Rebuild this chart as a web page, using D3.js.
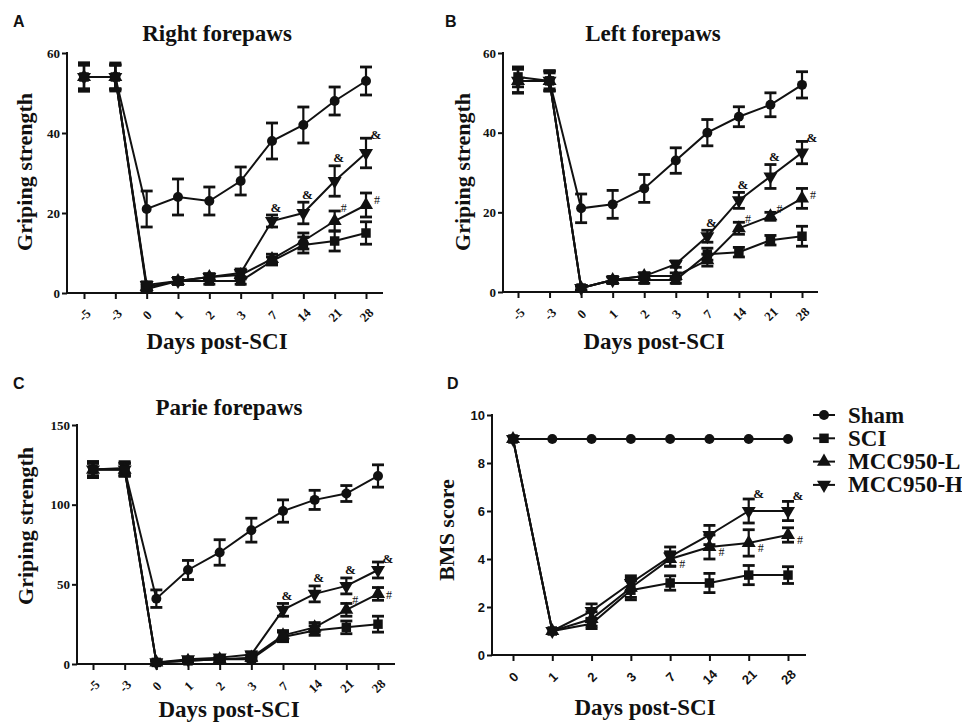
<!DOCTYPE html>
<html>
<head>
<meta charset="utf-8">
<script src="https://cdn.jsdelivr.net/npm/d3@7"></script>
<style>
  body { margin: 0; background: #fff; }
  svg { display: block; }
</style>
</head>
<body>
<svg id="chart" width="962" height="725"></svg>
<script>
// ---- data ----
var pawDays = ['-5', '-3', '0', '1', '2', '3', '7', '14', '21', '28'];
var bmsDays = ['0', '1', '2', '3', '7', '14', '21', '28'];
var groupNames = ['Sham', 'SCI', 'MCC950-L', 'MCC950-H'];

// A: right forepaws
var rightSham = [54, 54, 21, 24, 23, 28, 38, 42, 48, 53];
var rightShamErr = [3.5, 3.5, 4.5, 4.5, 3.5, 3.5, 4.5, 4.5, 3.5, 3.5];
var rightSci = [54, 54, 1, 3, 3, 3, 8, 12, 13, 15];
var rightSciErr = [3.5, 3, 0.8, 0.8, 0.8, 0.8, 1, 2, 2.5, 2.8];
var rightLow = [54, 54, 1.5, 3, 4, 4.5, 8.5, 13, 18, 22];
var rightLowErr = [3, 3, 0.8, 0.8, 0.8, 1, 1.2, 2, 2.5, 3];
var rightHigh = [54, 54, 2, 3, 4, 5, 18, 20, 28, 35];
var rightHighErr = [3, 3, 0.8, 0.8, 0.8, 1, 1.5, 2.7, 3.8, 3.7];
var rightNotes = [['7', 3, '&'], ['14', 3, '&'], ['21', 3, '&'], ['28', 3, '&'], ['21', 2, '#'], ['28', 2, '#']];

// B: left forepaws
var leftSham = [53, 53, 21, 22, 26, 33, 40, 44, 47, 52];
var leftShamErr = [3, 2.5, 3.6, 3.5, 3.5, 3.2, 3.3, 2.5, 3, 3.3];
var leftSci = [54, 53, 1, 3, 3, 3, 9.5, 10, 13, 14];
var leftSciErr = [2.5, 2, 0.5, 0.8, 0.8, 0.8, 1.5, 1.2, 1.2, 2.5];
var leftLow = [53, 53, 1, 3, 4, 4, 8, 16, 19, 23.5];
var leftLowErr = [3, 2.5, 0.5, 0.8, 0.8, 0.8, 1.5, 1.5, 1, 2.5];
var leftHigh = [53, 53, 1, 3, 4, 7, 14, 23, 29, 35];
var leftHighErr = [3, 2.5, 0.5, 0.8, 0.8, 0.8, 1.5, 2, 3, 2.8];
var leftNotes = [['7', 3, '&'], ['14', 3, '&'], ['21', 3, '&'], ['28', 3, '&'], ['14', 2, '#'], ['21', 2, '#'], ['28', 2, '#']];

// C: parie forepaws
var parieSham = [122, 122, 41, 59, 70, 84, 96, 103, 107, 118];
var parieShamErr = [5, 4, 5.5, 6, 8, 7.5, 7, 6, 5, 7];
var parieSci = [122, 123, 1, 2, 3, 3, 17, 21, 23, 25];
var parieSciErr = [5, 4, 1, 1, 1, 1, 3, 3, 4, 5];
var parieLow = [122, 122, 1, 2, 3, 4, 18, 23, 34, 44];
var parieLowErr = [4, 4, 1, 1, 1, 1.5, 3, 3, 4, 4];
var parieHigh = [122, 122, 1, 3, 4, 6, 34, 44, 49, 59];
var parieHighErr = [4, 4, 1, 1, 1, 1.5, 4, 5, 5, 5];
var parieNotes = [['7', 3, '&'], ['14', 3, '&'], ['21', 3, '&'], ['28', 3, '&'], ['21', 2, '#'], ['28', 2, '#']];

// D: BMS score
var bmsSham = [9, 9, 9, 9, 9, 9, 9, 9];
var bmsShamErr = [0, 0, 0, 0, 0, 0, 0, 0];
var bmsSci = [9, 1, 1.3, 2.7, 3, 3, 3.33, 3.33];
var bmsSciErr = [0, 0, 0.2, 0.4, 0.3, 0.4, 0.4, 0.35];
var bmsLow = [9, 1, 1.5, 2.8, 4, 4.5, 4.67, 5];
var bmsLowErr = [0, 0, 0.3, 0.4, 0.3, 0.5, 0.55, 0.3];
var bmsHigh = [9, 1, 1.83, 3, 4.1, 5, 6, 6];
var bmsHighErr = [0, 0, 0.3, 0.3, 0.4, 0.4, 0.5, 0.4];
var bmsNotes = [['21', 3, '&'], ['28', 3, '&'], ['7', 2, '#'], ['14', 2, '#'], ['21', 2, '#'], ['28', 2, '#']];

var pawTicks = [0, 20, 40, 60];
var parieTicks = [0, 50, 100, 150];
var bmsTicks = [0, 2, 4, 6, 8, 10];

// ---- layout ----
var SERIF = "'Liberation Serif', 'Times New Roman', 'DejaVu Serif', serif";
var SANS = "'Liberation Sans', Arial, 'DejaVu Sans', sans-serif";

var panels = [
  { letter: 'A', title: 'Right forepaws', ylabel: 'Griping strength', days: pawDays, ticks: pawTicks,
    series: [[rightSham, rightShamErr], [rightSci, rightSciErr], [rightLow, rightLowErr], [rightHigh, rightHighErr]],
    notes: rightNotes, ax: 67, x0: 84, x1: 366, xEnd: 383, top: 53, bottom: 293,
    letterPos: [13, 27], titlePos: [217, 41], ylabPos: [32, 172], xlabPos: [217, 349], tickFont: SERIF },
  { letter: 'B', title: 'Left forepaws', ylabel: 'Griping strength', days: pawDays, ticks: pawTicks,
    series: [[leftSham, leftShamErr], [leftSci, leftSciErr], [leftLow, leftLowErr], [leftHigh, leftHighErr]],
    notes: leftNotes, ax: 503, x0: 518, x1: 802, xEnd: 818, top: 53, bottom: 292,
    letterPos: [445, 27], titlePos: [653, 41], ylabPos: [470, 172], xlabPos: [654, 349], tickFont: SERIF },
  { letter: 'C', title: 'Parie forepaws', ylabel: 'Griping strength', days: pawDays, ticks: parieTicks,
    series: [[parieSham, parieShamErr], [parieSci, parieSciErr], [parieLow, parieLowErr], [parieHigh, parieHighErr]],
    notes: parieNotes, ax: 77, x0: 93, x1: 378, xEnd: 395, top: 425, bottom: 664,
    letterPos: [13, 389], titlePos: [229, 415], ylabPos: [33, 526], xlabPos: [229, 717], tickFont: SERIF },
  { letter: 'D', title: '', ylabel: 'BMS score', days: bmsDays, ticks: bmsTicks,
    series: [[bmsSham, bmsShamErr], [bmsSci, bmsSciErr], [bmsLow, bmsLowErr], [bmsHigh, bmsHighErr]],
    notes: bmsNotes, ax: 492, x0: 513, x1: 788, xEnd: 806, top: 415, bottom: 655,
    letterPos: [447, 389], titlePos: [0, 0], ylabPos: [454, 530], xlabPos: [645, 715], tickFont: SANS }
];

var svg = d3.select('#chart');
var ink = '#111';

// marker shapes per group: circle, square, triangle up, triangle down
var shapes = [
  { type: d3.symbolCircle, size: 78, rot: 0 },
  { type: d3.symbolSquare, size: 90, rot: 0 },
  { type: d3.symbolTriangle, size: 85, rot: 0 },
  { type: d3.symbolTriangle, size: 85, rot: 180 }
];

function drawMarker(g, px, py, k) {
  var s = shapes[k];
  g.append('path')
    .attr('d', d3.symbol().type(s.type).size(s.size)())
    .attr('transform', 'translate(' + px + ',' + py + ') rotate(' + s.rot + ')')
    .style('fill', ink);
}

function label(g, family, size) {
  return g.append('text')
    .style('font-family', family)
    .style('font-weight', 'bold')
    .style('font-size', size + 'px')
    .style('fill', ink);
}

panels.forEach(function(p) {
  var g = svg.append('g');
  var x = d3.scalePoint().domain(p.days).range([p.x0, p.x1]);
  var y = d3.scaleLinear().domain([0, p.ticks[p.ticks.length - 1]]).range([p.bottom, p.top]);

  // y axis
  var yAxis = g.append('g')
    .attr('transform', 'translate(' + p.ax + ',0)')
    .call(d3.axisLeft(y).tickValues(p.ticks).tickSize(5).tickSizeOuter(0).tickFormat(d3.format('d')));
  yAxis.attr('font-family', null).attr('font-size', null);
  yAxis.select('.domain').remove();
  yAxis.selectAll('line').style('stroke', ink).style('stroke-width', 2);
  yAxis.selectAll('text')
    .style('font-family', p.tickFont).style('font-weight', 'bold').style('font-size', '13px')
    .style('fill', ink).attr('x', -7);
  g.append('line').attr('x1', p.ax).attr('x2', p.ax).attr('y1', p.top - 1).attr('y2', p.bottom + 1)
    .style('stroke', ink).style('stroke-width', 2);

  // x axis
  var xAxis = g.append('g')
    .attr('transform', 'translate(0,' + p.bottom + ')')
    .call(d3.axisBottom(x).tickSize(6).tickSizeOuter(0));
  xAxis.attr('font-family', null).attr('font-size', null);
  xAxis.select('.domain').remove();
  xAxis.selectAll('line').style('stroke', ink).style('stroke-width', 2);
  xAxis.selectAll('text')
    .style('font-family', p.tickFont).style('font-weight', 'bold').style('font-size', '13px')
    .style('fill', ink)
    .attr('text-anchor', 'middle')
    .attr('dy', null)
    .attr('y', 0)
    .attr('transform', 'translate(0,22) rotate(-45)')
    .attr('dominant-baseline', 'central');
  g.append('line').attr('x1', p.ax - 1).attr('x2', p.xEnd).attr('y1', p.bottom).attr('y2', p.bottom)
    .style('stroke', ink).style('stroke-width', 2);

  // error bars and lines
  p.series.forEach(function(s) {
    var vals = s[0], errs = s[1];
    var line = d3.line().x(function(d, i) { return x(p.days[i]); }).y(function(d) { return y(d); });
    g.append('path').attr('d', line(vals)).style('fill', 'none').style('stroke', ink).style('stroke-width', 2);
    vals.forEach(function(v, i) {
      var e = errs[i];
      var px = x(p.days[i]);
      if (e > 0) {
        var yt = y(v + e), yb = y(v - e);
        g.append('line').attr('x1', px).attr('x2', px).attr('y1', yt).attr('y2', yb)
          .style('stroke', ink).style('stroke-width', 2.2);
        [yt, yb].forEach(function(yy) {
          g.append('line').attr('x1', px - 6).attr('x2', px + 6).attr('y1', yy).attr('y2', yy)
            .style('stroke', ink).style('stroke-width', 2.8);
        });
      }
    });
  });
  // markers on top
  p.series.forEach(function(s, k) {
    s[0].forEach(function(v, i) { drawMarker(g, x(p.days[i]), y(v), k); });
  });

  // significance marks
  var lastDay = p.days[p.days.length - 1];
  p.notes.forEach(function(n) {
    var i = p.days.indexOf(n[0]);
    var v = p.series[n[1]][0][i], e = p.series[n[1]][1][i];
    var px = x(n[0]), top = y(v + e), nx, ny;
    if (p.letter === 'D') {
      if (n[2] === '&') { nx = px + 10; ny = top - 6; } else { nx = px + 12; ny = y(v) + 5; }
    } else if (n[0] === lastDay) {
      if (n[2] === '&') { nx = px + 10; ny = top - 4; } else { nx = px + 11; ny = top + 7; }
    } else {
      if (n[2] === '&') { nx = px + 4; ny = top - 8; } else { nx = px + 9; ny = top - 3; }
    }
    label(g, SERIF, n[2] === '&' ? 13 : 12)
      .style('font-weight', n[2] === '&' ? 'bold' : 'normal')
      .attr('x', nx).attr('y', ny)
      .attr('text-anchor', 'middle').attr('dominant-baseline', 'central')
      .text(n[2]);
  });

  // panel letter, title, axis titles
  label(g, SANS, 16).attr('x', p.letterPos[0]).attr('y', p.letterPos[1]).text(p.letter);
  if (p.title) {
    label(g, SERIF, 23).attr('x', p.titlePos[0]).attr('y', p.titlePos[1])
      .attr('text-anchor', 'middle').text(p.title);
  }
  label(g, SERIF, 22)
    .attr('transform', 'translate(' + p.ylabPos[0] + ',' + p.ylabPos[1] + ') rotate(-90)')
    .attr('text-anchor', 'middle').text(p.ylabel);
  label(g, SERIF, 23).attr('x', p.xlabPos[0]).attr('y', p.xlabPos[1])
    .attr('text-anchor', 'middle').text('Days post-SCI');
});

// legend (panel D)
var legend = svg.append('g');
groupNames.forEach(function(name, k) {
  var ly = 415 + k * 23.3;
  legend.append('line').attr('x1', 813).attr('x2', 835).attr('y1', ly).attr('y2', ly)
    .style('stroke', ink).style('stroke-width', 2);
  drawMarker(legend, 824, ly, k);
  label(legend, SERIF, 23).attr('x', 848).attr('y', ly)
    .attr('dominant-baseline', 'central').text(name);
});
</script>
</body>
</html>
